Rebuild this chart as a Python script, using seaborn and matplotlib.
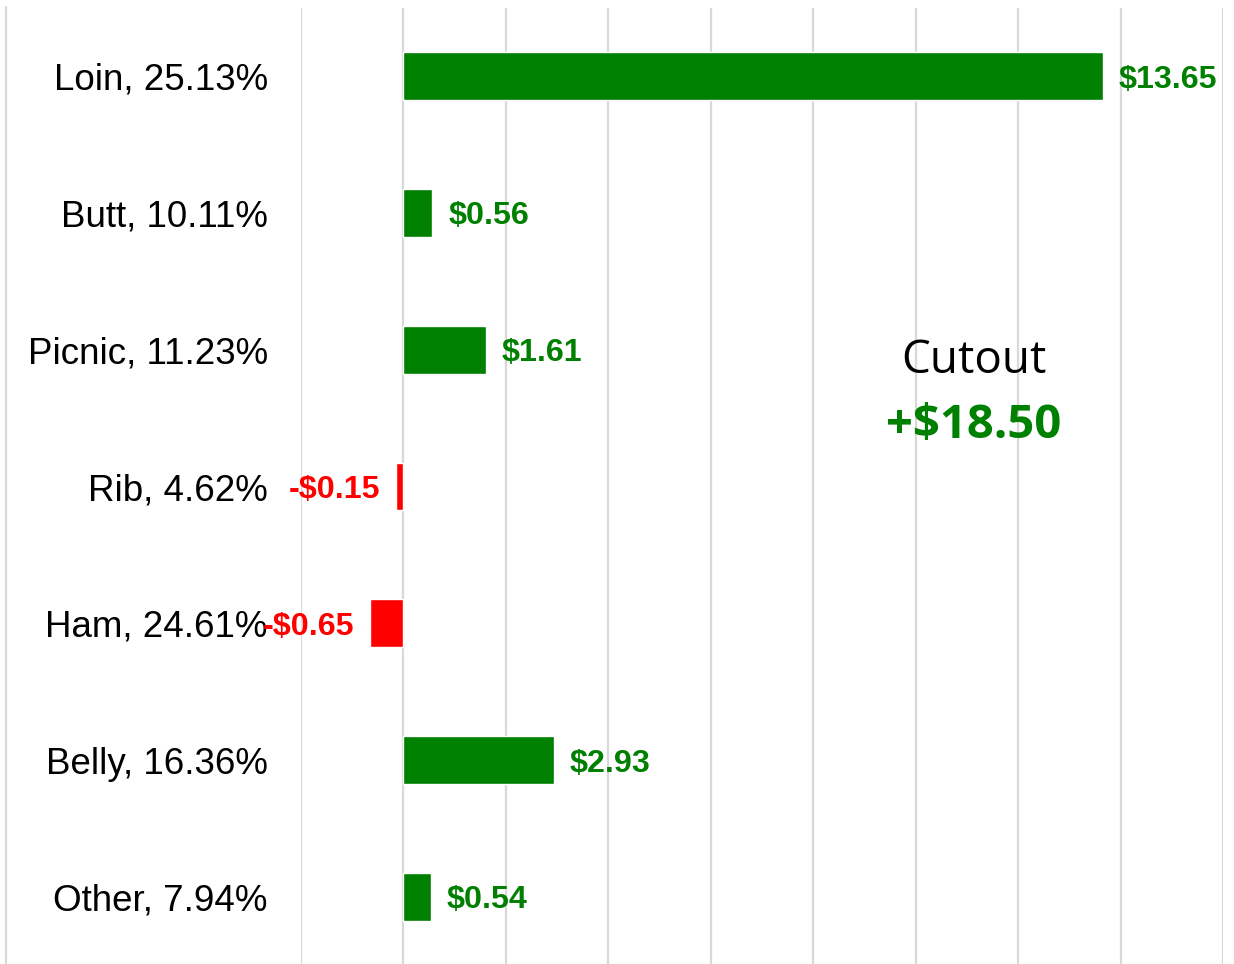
import matplotlib
matplotlib.use("Agg")
import matplotlib.pyplot as plt
from matplotlib.lines import Line2D
import seaborn as sns
import pandas as pd

# Data
cuts = ["Loin", "Butt", "Picnic", "Rib", "Ham", "Belly", "Other"]
shares = ["25.13%", "10.11%", "11.23%", "4.62%", "24.61%", "16.36%", "7.94%"]
changes = [13.65, 0.56, 1.61, -0.15, -0.65, 2.93, 0.54]
cutout_label = "Cutout"
cutout_value = "+$18.50"

GREEN = "#008000"
RED = "#FF0000"
GRID = "#D9D9D9"

labels = [f"{c}, {s}" for c, s in zip(cuts, shares)]
df = pd.DataFrame({
    "label": labels,
    "change": changes,
    "sign": ["pos" if v >= 0 else "neg" for v in changes],
})

sns.set_theme(style="white")
plt.rcParams["font.family"] = ["Liberation Sans", "DejaVu Sans"]

W, H, DPI = 1234, 964, 100
fig = plt.figure(figsize=(W / DPI, H / DPI), dpi=DPI)
fig.patch.set_facecolor("white")

left, right = 301 / W, 1223 / W
top = 1 - 7.6 / H
bottom = 1 - 965.4 / H
ax = fig.add_axes([left, bottom, right - left, top - bottom])

sns.barplot(data=df, x="change", y="label", hue="sign",
            palette={"pos": GREEN, "neg": RED}, dodge=False,
            width=0.35, legend=False, ax=ax, orient="h", saturation=1)

ax.set_xlim(-2, 16)
ax.set_xticks(range(-2, 17, 2))
ax.set_xticklabels([])
ax.tick_params(axis="x", length=0)
ax.grid(axis="x", color=GRID, linewidth=1.6)
ax.grid(axis="y", visible=False)
ax.set_axisbelow(True)
for sp in ax.spines.values():
    sp.set_visible(False)
ax.set_xlabel("")
ax.set_ylabel("")
ax.tick_params(axis="y", length=0, pad=24, labelsize=26.5, labelcolor="black")
for t in ax.get_yticklabels():
    t.set_fontfamily(["Liberation Sans", "DejaVu Sans"])
    t.set_verticalalignment("center_baseline")

for i, v in enumerate(changes):
    if v >= 0:
        txt = f"${v:.2f}"
        ax.annotate(txt, xy=(v, i), xytext=(11.5, 0), textcoords="offset points",
                    ha="left", va="center_baseline", fontsize=23.2,
                    fontweight="bold", color=GREEN)
    else:
        txt = f"-${abs(v):.2f}"
        ax.annotate(txt, xy=(v, i), xytext=(-11.5, 0), textcoords="offset points",
                    ha="right", va="center_baseline", fontsize=23.2,
                    fontweight="bold", color=RED)

fig.text(974 / W, 1 - 361 / H, cutout_label, ha="center", va="center",
         fontsize=33, color="black", family=["Open Sans", "DejaVu Sans"])
fig.text(974 / W, 1 - 425 / H, cutout_value, ha="center", va="center",
         fontsize=34, color=GREEN, fontweight="bold",
         family=["Open Sans", "DejaVu Sans"])

fig.add_artist(Line2D([6 / W, 6 / W], [0, 1 - 7 / H], color=GRID,
                      linewidth=1.6, transform=fig.transFigure))

fig.savefig("out.png", dpi=DPI, facecolor="white")
